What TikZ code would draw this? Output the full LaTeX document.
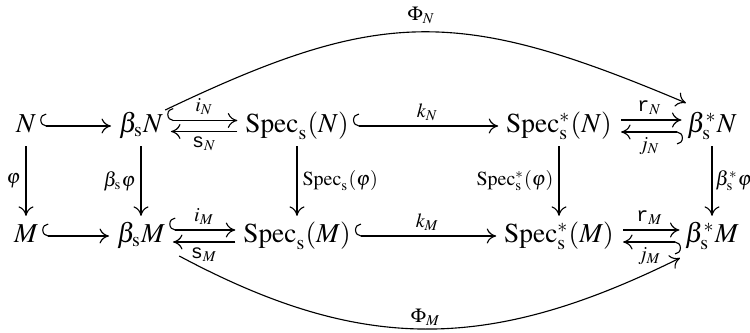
\documentclass[tikz,border=0pt]{standalone}
\usepackage{mathptmx}
\usepackage[no-math]{fontspec}
\setmainfont{Liberation Serif}
\newfontfamily\courierfont{Liberation Mono}
\usetikzlibrary{arrows.meta}
\newcommand\ttlab[1]{\mbox{\fontsize{8}{9}\courierfont #1}}
\begin{document}
\fontsize{10.95}{13}\selectfont
\begin{tikzpicture}[x=0.4pt,y=0.4pt,
  obj/.style={inner xsep=1.5pt, inner ysep=3pt, text height=7.5pt, text depth=2.2pt},
  mor/.style={line width=0.45pt, -{Computer Modern Rightarrow[length=3.8pt,width=6pt]}},
  hk/.style={line width=0.45pt, {Hooks[right,length=2.4pt,width=10pt]}-{Computer Modern Rightarrow[length=3.8pt,width=6pt]}},
  lbl/.style={inner sep=2pt}]
\useasboundingbox (0,0) rectangle (750,332);
% top row
\node[obj] (N)   at (26,206)  {$N$};
\node[obj] (bN)  at (141,206) {$\beta_{\mathrm{s}}N$};
\node[obj] (SN)  at (297,206) {$\mathrm{Spec}_{\mathrm{s}}(N)$};
\node[obj] (SsN) at (559,206) {$\mathrm{Spec}^*_{\mathrm{s}}(N)$};
\node[obj] (bsN) at (712,206) {$\beta^*_{\mathrm{s}}N$};
% bottom row
\node[obj] (M)   at (26,96)  {$M$};
\node[obj] (bM)  at (141,96) {$\beta_{\mathrm{s}}M$};
\node[obj] (SM)  at (297,96) {$\mathrm{Spec}_{\mathrm{s}}(M)$};
\node[obj] (SsM) at (559,96) {$\mathrm{Spec}^*_{\mathrm{s}}(M)$};
\node[obj] (bsM) at (712,96) {$\beta^*_{\mathrm{s}}M$};
% top horizontal
\draw[hk, shorten >=1.5pt] (N) -- (bN);
\draw[hk, shorten >=1.5pt] ([yshift=2.2pt]bN.east) -- node[lbl,above] {$\scriptstyle i_N$} ([yshift=2.2pt]SN.west);
\draw[mor, shorten >=1.5pt, shorten <=1.5pt] ([yshift=-2.2pt]SN.west) -- node[lbl,below] {$\scriptstyle \ttlab{s}_N$} ([yshift=-2.2pt]bN.east);
\draw[hk, shorten >=1.5pt] (SN) -- node[lbl,above] {$\scriptstyle k_N$} (SsN);
\draw[mor, shorten <=2pt, shorten >=0.6pt] ([yshift=2.4pt]SsN.east) -- node[lbl,above] {$\scriptstyle \ttlab{r}_N$} ([yshift=2.4pt]bsN.west);
\draw[hk, shorten >=2pt] ([yshift=-2.4pt]bsN.west) -- node[lbl,below] {$\scriptstyle j_N$} ([yshift=-2.4pt]SsN.east);
% bottom horizontal
\draw[hk, shorten >=1.5pt] (M) -- (bM);
\draw[hk, shorten >=1.5pt] ([yshift=2.4pt]bM.east) -- node[lbl,above] {$\scriptstyle i_M$} ([yshift=2.4pt]SM.west);
\draw[mor, shorten >=1.5pt, shorten <=1.5pt] ([yshift=-2.4pt]SM.west) -- node[lbl,below] {$\scriptstyle \ttlab{s}_M$} ([yshift=-2.4pt]bM.east);
\draw[hk, shorten >=1.5pt] (SM) -- node[lbl,above] {$\scriptstyle k_M$} (SsM);
\draw[mor, shorten <=2pt, shorten >=0.6pt] ([yshift=2.4pt]SsM.east) -- node[lbl,above] {$\scriptstyle \ttlab{r}_M$} ([yshift=2.4pt]bsM.west);
\draw[hk, shorten >=2pt] ([yshift=-2.4pt]bsM.west) -- node[lbl,below] {$\scriptstyle j_M$} ([yshift=-2.4pt]SsM.east);
% vertical
\draw[mor] (N) -- node[lbl,left] {$\scriptstyle \varphi$} (M);
\draw[mor] (bN) -- node[lbl,left] {$\scriptstyle \beta_{\mathrm{s}}\varphi$} (bM);
\draw[mor] (SN) -- node[lbl,right] {$\scriptstyle \mathrm{Spec}_{\mathrm{s}}(\varphi)$} (SM);
\draw[mor] (SsN) -- node[lbl,left] {$\scriptstyle \mathrm{Spec}^*_{\mathrm{s}}(\varphi)$} (SsM);
\draw[mor] (bsN) -- node[right,inner xsep=1.2pt] {$\scriptstyle \beta^*_{\mathrm{s}}\varphi$} (bsM);
% curves
\draw[mor] ([xshift=-0.8pt,yshift=6.4pt]bN.east) .. controls (381,325) and (459,325) .. node[above,inner sep=3pt] {$\scriptstyle \Phi_N$} ([xshift=1.2pt,yshift=9.2pt]bsN.west);
\draw[mor] ([xshift=4pt,yshift=-8pt]bM.east) .. controls (361,-21) and (488,-21) .. node[above,inner sep=1pt] {$\scriptstyle \Phi_M$} ([xshift=-0.4pt,yshift=-8.8pt]bsM.west);
\end{tikzpicture}
\end{document}
